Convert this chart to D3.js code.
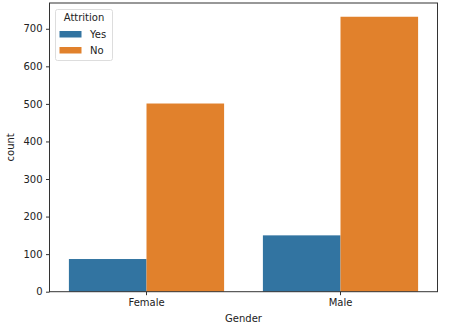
<!DOCTYPE html>
<html><head><meta charset="utf-8">
<script src="https://cdn.jsdelivr.net/npm/d3@7"></script>
<style>body{margin:0;background:#fff}svg{display:block}text{font-family:"DejaVu Sans",sans-serif;fill:#222}</style>
</head><body><svg id="c" width="467" height="329"></svg>
<script>
const categories = ["Female", "Male"];
const series = ["Yes", "No"];
const yesValues = [87, 150];
const noValues = [501, 732];
const yTicks = [0, 100, 200, 300, 400, 500, 600, 700];
const colors = ["#3274a1", "#e1812c"];

const svg = d3.select("#c");
const L = 49.5, R = 437.5, T = 3, B = 291.7;
const x = d3.scaleLinear().domain([-0.5, 1.5]).range([L, R]);
const y = d3.scaleLinear().domain([0, 732 * 1.05]).range([B, T]);
const vals = [yesValues, noValues];

const g = svg.append("g");
series.forEach((s, si) => {
  g.selectAll(null).data(categories).enter().append("rect")
    .attr("x", (d, i) => x(i - 0.4 + si * 0.4))
    .attr("width", (d, i) => x(i + 0.4) - x(i))
    .attr("y", (d, i) => y(vals[si][i]))
    .attr("height", (d, i) => y(0) - y(vals[si][i]))
    .attr("fill", colors[si]);
});

// axes
const yAxis = d3.axisLeft(y).tickValues(yTicks).tickSize(3.5).tickPadding(3.5).tickFormat(d3.format("d"));
const ya = svg.append("g").attr("transform", `translate(${L},0)`).call(yAxis);
ya.select(".domain").remove();
ya.selectAll("text").attr("font-size", 10).attr("font-family", "DejaVu Sans").attr("fill", "#222");
ya.selectAll("line").attr("stroke", "#333");

const xb = d3.scaleBand().domain(categories).range([L, R]);
const xAxis = d3.axisBottom(xb).tickSize(3.5).tickPadding(3.5);
const xa = svg.append("g").attr("transform", `translate(0,${B})`).call(xAxis);
xa.select(".domain").remove();
xa.selectAll("text").attr("font-size", 10).attr("font-family", "DejaVu Sans").attr("fill", "#222");
xa.selectAll("line").attr("stroke", "#333");

// spines
svg.append("rect").attr("x", L).attr("y", T).attr("width", R - L).attr("height", B - T)
  .attr("fill", "none").attr("stroke", "#333").attr("stroke-width", 1);

// labels
svg.append("text").attr("x", (L + R) / 2).attr("y", 322).attr("text-anchor", "middle")
  .attr("font-size", 10).text("Gender");
svg.append("text").attr("transform", `translate(14,${(T + B) / 2}) rotate(-90)`)
  .attr("text-anchor", "middle").attr("font-size", 10).text("count");

// legend
const lg = svg.append("g");
lg.append("rect").attr("x", 55.5).attr("y", 9.5).attr("width", 57).attr("height", 51)
  .attr("rx", 2).attr("fill", "rgba(255,255,255,0.8)").attr("stroke", "#ddd");
lg.append("text").attr("x", 84).attr("y", 21).attr("text-anchor", "middle").attr("font-size", 10).text("Attrition");
series.forEach((s, i) => {
  lg.append("rect").attr("x", 59.5).attr("y", 31 + i * 16).attr("width", 22).attr("height", 6.5).attr("fill", colors[i]);
  lg.append("text").attr("x", 90).attr("y", 38 + i * 16).attr("font-size", 10).text(s);
});
</script></body></html>
